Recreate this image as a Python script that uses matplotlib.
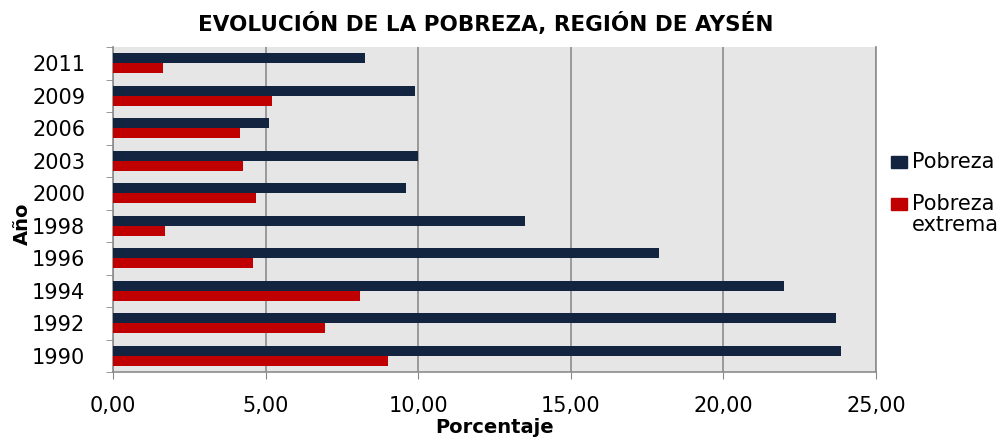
import matplotlib
matplotlib.use("Agg")
import matplotlib.pyplot as plt
import numpy as np
from matplotlib.patches import Rectangle

years = ["1990", "1992", "1994", "1996", "1998", "2000", "2003", "2006", "2009", "2011"]
pobreza = [23.85, 23.7, 22.0, 17.9, 13.5, 9.6, 10.0, 5.1, 9.9, 8.25]
pobreza_extrema = [9.0, 6.95, 8.1, 4.6, 1.7, 4.7, 4.25, 4.15, 5.2, 1.65]
series_names = ["Pobreza", "Pobreza\nextrema"]
xticks = [0, 5, 10, 15, 20, 25]
xticklabels = ["0,00", "5,00", "10,00", "15,00", "20,00", "25,00"]

navy = "#12243f"
red = "#c00000"
W, H = 1005, 437

fig = plt.figure(figsize=(W/100, H/100), dpi=100)
ax = fig.add_axes([113/W, 1-372/H, (876-113)/W, (372-47)/H])
ax.set_facecolor("#e6e6e6")

y = np.arange(len(years))
h = 0.31
ax.barh(y + h/2, pobreza, height=h, color=navy, zorder=3)
ax.barh(y - h/2, pobreza_extrema, height=h, color=red, zorder=3)

ax.set_xlim(0, 25)
ax.set_ylim(-0.5, len(years) - 0.5)
ax.set_xticks(xticks)
ax.set_xticklabels(xticklabels, fontsize=15, family=["DejaVu Sans"])
ax.set_yticks(y)
ax.set_yticklabels(years, fontsize=15, family=["DejaVu Sans"])
ax.set_yticks(np.arange(-0.5, len(years), 1), minor=True)
ax.tick_params(axis="y", which="major", length=0, pad=20)
ax.tick_params(axis="y", which="minor", length=5, color="#888888")
ax.tick_params(axis="x", length=5, color="#888888", pad=12)
ax.grid(axis="x", color="#8c8c8c", linewidth=1.2, zorder=0)
ax.spines["top"].set_visible(False)
for s in ["left", "bottom", "right"]:
    ax.spines[s].set_color("#8c8c8c")
    ax.spines[s].set_linewidth(1.2)

ax.set_xlabel("Porcentaje", fontsize=14, fontweight="bold", family=["DejaVu Sans"], labelpad=2)
fig.text(22/W, 1-224/H, "Año", rotation=90, ha="center", va="center",
         fontsize=14, fontweight="bold", family=["DejaVu Sans"])
fig.text(486/W, 1-24/H, "EVOLUCIÓN DE LA POBREZA, REGIÓN DE AYSÉN", ha="center", va="center",
         fontsize=15.5, fontweight="bold", family=["DejaVu Sans"])

# legend
for name, col, yc in zip(series_names, [navy, red], [162, 204]):
    fig.patches.append(Rectangle((891/W, 1-(yc+6)/H), 16/W, 12/H, color=col,
                                 transform=fig.transFigure, figure=fig))
    fig.text(912/W, 1-(yc-10)/H, name, ha="left", va="top", fontsize=15,
             family=["DejaVu Sans"], linespacing=1.05)

fig.savefig("out.png", dpi=100)
